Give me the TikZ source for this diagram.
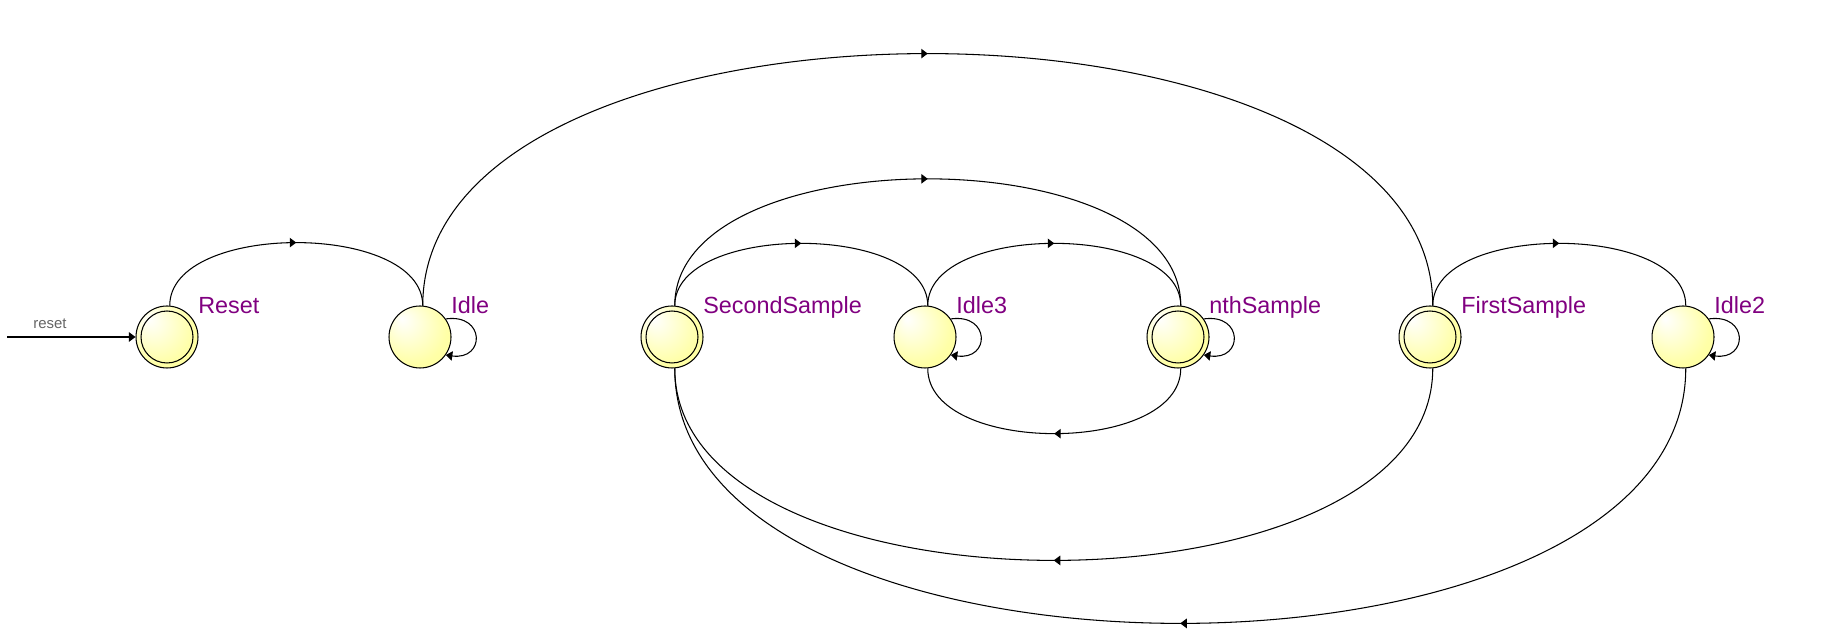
\documentclass[tikz,border=0pt]{standalone}
\usepackage{fontspec}
\usepackage{tikz}
\usetikzlibrary{arrows.meta,decorations.markings}
\newfontfamily\fsmfont{Liberation Sans}
\definecolor{stateyellow}{RGB}{255,255,145}
\definecolor{statepurple}{RGB}{128,0,128}
\definecolor{inputgray}{RGB}{100,100,100}
\pgfdeclareradialshading{stateglow}{\pgfpoint{-15bp}{15bp}}{color(0bp)=(white); color(28bp)=(stateyellow!80!white); color(50bp)=(stateyellow)}
\tikzset{
    state/.style={circle, draw, line width=0.6pt, minimum size=1.24cm, inner sep=0pt, shading=stateglow},
    final/.style={state, path picture={\draw[line width=0.6pt] (path picture bounding box.center) circle (0.52cm);}},
    trans/.style={draw, line width=0.6pt, decoration={markings, mark=at position 0.5 with {\arrow{Triangle[length=0.13cm,width=0.19cm]}}}, postaction={decorate}},
    selfloop/.style={draw, line width=0.6pt, -{Triangle[length=0.13cm,width=0.19cm]}},
    lbl/.style={font=\fsmfont\fontsize{13.3}{15}\selectfont, text=statepurple, inner sep=0pt, anchor=base west},
    inlbl/.style={font=\fsmfont\fontsize{8.5}{10}\selectfont, text=inputgray, inner sep=0pt, anchor=base}
}
\begin{document}
\begin{tikzpicture}[x=0.02cm,y=0.02cm]
    \useasboundingbox (0,0) rectangle (1821,638);
    \node[final] (Reset) at (167,301) {}; \node[state] (Idle) at (420,301) {};
    \node[final] (SecondSample) at (672,301) {}; \node[state] (Idle3) at (925,301) {};
    \node[final] (nthSample) at (1178,301) {}; \node[final] (FirstSample) at (1430,301) {};
    \node[state] (Idle2) at (1683,301) {};
    \node[lbl] (tReset) at ([shift={(31,23)}]Reset.center) {Reset};
    \node[lbl] (tIdle) at ([shift={(31,23)}]Idle.center) {Idle};
    \node[lbl] (tSecondSample) at ([shift={(31,23)}]SecondSample.center) {SecondSample};
    \node[lbl] (tIdle3) at ([shift={(31,23)}]Idle3.center) {Idle3};
    \node[lbl] (tnthSample) at ([shift={(31,23)}]nthSample.center) {nthSample};
    \node[lbl] (tFirstSample) at ([shift={(31,23)}]FirstSample.center) {FirstSample};
    \node[lbl] (tIdle2) at ([shift={(31,23)}]Idle2.center) {Idle2};
    \coordinate (rstart) at (7,301); \node[inlbl] (tInput) at (50,309) {reset};
    \draw[selfloop] (rstart) -- (Reset);
    \draw[trans] (Reset.85) .. controls +(0,84) and +(0,84) .. (Idle.85);
    \draw[trans] (Idle.85) .. controls +(0,336) and +(0,336) .. (FirstSample.85);
    \draw[trans] (SecondSample.85) .. controls +(0,83) and +(0,83) .. (Idle3.85);
    \draw[trans] (SecondSample.85) .. controls +(0,169) and +(0,169) .. (nthSample.85);
    \draw[trans] (Idle3.85) .. controls +(0,83) and +(0,83) .. (nthSample.85);
    \draw[trans] (FirstSample.85) .. controls +(0,83) and +(0,83) .. (Idle2.85);
    \draw[trans] (nthSample.275) .. controls +(0,-87) and +(0,-87) .. (Idle3.275);
    \draw[trans] (FirstSample.275) .. controls +(0,-256) and +(0,-256) .. (SecondSample.275);
    \draw[trans] (Idle2.275) .. controls +(0,-340) and +(0,-340) .. (SecondSample.275);
    \draw[selfloop] (Idle.35) .. controls +(8:40) and +(-8:40) .. (Idle.-35);
    \draw[selfloop] (Idle3.35) .. controls +(8:40) and +(-8:40) .. (Idle3.-35);
    \draw[selfloop] (nthSample.35) .. controls +(8:40) and +(-8:40) .. (nthSample.-35);
    \draw[selfloop] (Idle2.35) .. controls +(8:40) and +(-8:40) .. (Idle2.-35);
\end{tikzpicture}
\end{document}
